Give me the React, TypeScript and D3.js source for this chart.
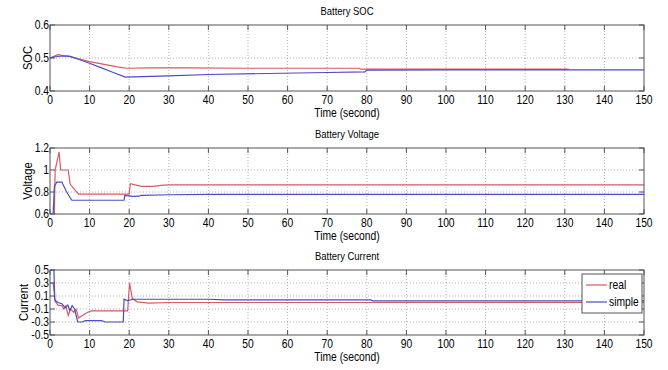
import React from 'react';
import * as d3 from 'd3';

// time ticks shared by all three panels
const timeTicks = [0, 10, 20, 30, 40, 50, 60, 70, 80, 90, 100, 110, 120, 130, 140, 150];

// Battery SOC [time, value]
const socReal: [number, number][] = [
  [0, 0.5], [1, 0.505], [2, 0.51], [3, 0.508], [5, 0.505], [7, 0.498], [10, 0.489], [14, 0.48],
  [17, 0.473], [19.5, 0.469], [25, 0.47], [35, 0.47], [50, 0.469], [65, 0.469], [78, 0.469],
  [78.5, 0.466], [100, 0.466], [131, 0.466],
];
const socSimple: [number, number][] = [
  [0, 0.5], [1, 0.503], [3, 0.506], [5, 0.505], [7, 0.497], [10, 0.484], [13, 0.47], [16, 0.456],
  [19, 0.442], [21, 0.443], [30, 0.446], [40, 0.45], [55, 0.453], [70, 0.456], [79.5, 0.458],
  [80, 0.463], [100, 0.464], [150, 0.464],
];

// Battery Voltage [time, value]
const voltReal: [number, number][] = [
  [1.1, 0.6], [1.3, 1.0], [2.3, 1.165], [2.7, 1.0], [4.6, 1.0], [5.1, 0.87], [7.2, 0.78],
  [19, 0.78], [20, 0.78], [20.3, 0.875], [21.5, 0.865], [23, 0.852], [26, 0.852], [28, 0.86],
  [30, 0.865], [60, 0.865], [150, 0.865],
];
const voltSimple: [number, number][] = [
  [0.8, 0.6], [1.1, 0.85], [1.7, 0.89], [3, 0.89], [4.2, 0.8], [5.5, 0.725], [18.7, 0.725],
  [18.9, 0.77], [20, 0.765], [21, 0.76], [22.5, 0.762], [23, 0.77], [30, 0.775], [40, 0.778],
  [150, 0.778],
];

// Battery Current [time, value]
const currReal: [number, number][] = [
  [0, 0.3], [0.8, 0.3], [1.3, 0.02], [2, -0.04], [3, -0.05], [3.5, -0.1], [4, -0.05], [4.6, -0.2],
  [5.2, -0.1], [6, -0.15], [6.6, -0.1], [7.2, -0.24], [8.5, -0.19], [9.5, -0.15], [10.5, -0.13],
  [19.6, -0.13], [20.1, 0.3], [20.8, 0.06], [22, 0.01], [25, -0.01], [30, 0.0], [150, 0.0],
];
const currSimple: [number, number][] = [
  [0, 0.5], [1, 0.5], [1.2, 0.04], [2, 0.0], [3, -0.02], [3.8, -0.08], [4.5, -0.04], [5, -0.12],
  [5.6, -0.05], [6.2, -0.1], [7, -0.3], [8, -0.3], [9, -0.28], [13, -0.28], [14, -0.3],
  [18.5, -0.3], [18.7, 0.05], [19.5, 0.03], [21, 0.05], [40, 0.05], [44, 0.04], [81, 0.04],
  [81.5, 0.025], [150, 0.025],
];

const socTicks = [0.4, 0.5, 0.6];
const voltTicks = [0.6, 0.8, 1, 1.2];
const currTicks = [-0.5, -0.3, -0.1, 0.1, 0.3, 0.5];

const seriesNames = ['real', 'simple'];
const RED = '#d85a64';
const BLUE = '#4b4bc8';
const FONT = "'Liberation Sans', Arial, sans-serif";

const x = d3.scaleLinear().domain([0, 150]).range([50, 644]);

type Pt = [number, number];

// horizontally squeezed text, the figure's font is a narrow Helvetica
function T({ x, y, anchor = 'start', size = 11, rotate = 0, children }: {
  x: number; y: number; anchor?: string; size?: number; rotate?: number; children: React.ReactNode;
}) {
  return (
    <text transform={`translate(${x},${y}) rotate(${rotate}) scale(0.86,1)`} textAnchor={anchor}
      fontSize={size}>{children}</text>
  );
}

function Panel({ title, ylabel, labelX, top, bottom, domain, ticks, real, simple, legend }: {
  title: string; ylabel: string; labelX: number; top: number; bottom: number; domain: [number, number];
  ticks: number[]; real: Pt[]; simple: Pt[]; legend?: boolean;
}) {
  const y = d3.scaleLinear().domain(domain).range([bottom, top]);
  const line = d3.line<Pt>().x(d => x(d[0])).y(d => y(d[1]));
  const [x0, x1] = x.range();
  const mid = (top + bottom) / 2;
  return (
    <g>
      <T x={347} y={top - 10} anchor="middle">{title}</T>
      {/* grid */}
      {timeTicks.slice(1, -1).map(t => (
        <line key={'gx' + t} x1={x(t)} x2={x(t)} y1={top} y2={bottom} stroke="#b0b0b0" strokeDasharray="1,2" />
      ))}
      {ticks.slice(1, -1).map(v => (
        <line key={'gy' + v} x1={x0} x2={x1} y1={y(v)} y2={y(v)} stroke="#b0b0b0" strokeDasharray="1,2" />
      ))}
      <path d={line(real) ?? ''} fill="none" stroke={RED} strokeWidth={1.2} />
      <path d={line(simple) ?? ''} fill="none" stroke={BLUE} strokeWidth={1.2} />
      {/* frame + inner ticks */}
      <rect x={x0} y={top} width={x1 - x0} height={bottom - top} fill="none" stroke="#555" />
      {timeTicks.map(t => (
        <g key={'tx' + t}>
          <line x1={x(t)} x2={x(t)} y1={bottom} y2={bottom - 5} stroke="#555" />
          <line x1={x(t)} x2={x(t)} y1={top} y2={top + 5} stroke="#555" />
          <T x={x(t)} y={bottom + 13} anchor="middle" size={12}>{t}</T>
        </g>
      ))}
      {ticks.map(v => (
        <g key={'ty' + v}>
          <line x1={x0} x2={x0 + 5} y1={y(v)} y2={y(v)} stroke="#555" />
          <line x1={x1} x2={x1 - 5} y1={y(v)} y2={y(v)} stroke="#555" />
          <T x={x0 - 1} y={y(v) + 4} anchor="end" size={12}>{String(v)}</T>
        </g>
      ))}
      <T x={347} y={bottom + 26} anchor="middle" size={12}>Time (second)</T>
      <T x={labelX} y={mid} anchor="middle" size={13} rotate={-90}>{ylabel}</T>
      {legend && (
        <g>
          <rect x={582} y={274} width={60} height={39} fill="#fff" stroke="#555" />
          {seriesNames.map((n, i) => (
            <g key={n}>
              <line x1={586} x2={607} y1={285 + i * 17} y2={285 + i * 17} stroke={i === 0 ? RED : BLUE} strokeWidth={1.2} />
              <T x={609} y={289 + i * 17} size={12}>{n}</T>
            </g>
          ))}
        </g>
      )}
    </g>
  );
}

export default function App() {
  return (
    <svg width={668} height={370} style={{ position: 'absolute', left: 0, top: 0, background: '#fff' }}
      fontFamily={FONT}>
      <rect width={668} height={370} fill="#fff" />
      <Panel title="Battery SOC" ylabel="SOC" labelX={32} top={25} bottom={91} domain={[0.4, 0.6]}
        ticks={socTicks} real={socReal} simple={socSimple} />
      <Panel title="Battery Voltage" ylabel="Voltage" labelX={32} top={148} bottom={214} domain={[0.6, 1.2]}
        ticks={voltTicks} real={voltReal} simple={voltSimple} />
      <Panel title="Battery Current" ylabel="Current" labelX={28} top={270} bottom={335} domain={[-0.5, 0.5]}
        ticks={currTicks} real={currReal} simple={currSimple} legend />
    </svg>
  );
}
